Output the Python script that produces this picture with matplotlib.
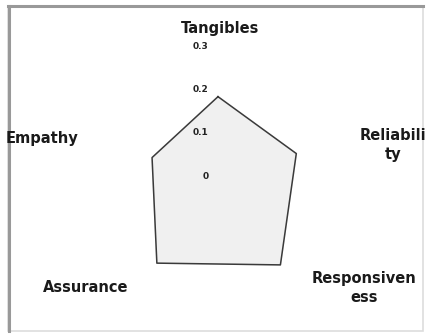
import numpy as np
import matplotlib.pyplot as plt
from matplotlib.patches import Rectangle

categories = ["Tangibles", "Reliability", "Responsiveness", "Assurance", "Empathy"]
values = [0.19, 0.19, 0.245, 0.24, 0.16]
rticks = [0, 0.1, 0.2, 0.3]
rtick_labels = ["0", "0.1", "0.2", "0.3"]

W, H = 426, 336
fig = plt.figure(figsize=(W / 100, H / 100), dpi=100)
fig.patch.set_facecolor("white")

# frame round the chart area (pixel coords, y measured from the top)
def px(x, y):
    return x / W, 1 - y / H

fig.add_artist(Rectangle(px(8, 331), 415 / W, 325 / H, transform=fig.transFigure,
                         fill=False, edgecolor="#dddddd", linewidth=1.2))
(x0, y0), (x1, y1) = px(9, 331), px(9, 6)
fig.add_artist(plt.Line2D([x0, x1], [y0, y1], transform=fig.transFigure,
                          color="#999999", linewidth=2.2))
(x0, y0), (x1, y1) = px(8, 6), px(423, 6)
fig.add_artist(plt.Line2D([x0, x1], [y0, y1], transform=fig.transFigure,
                          color="#999999", linewidth=2.2))

cx, cy, R = 218, 179, 130
ax = fig.add_axes([(cx - R) / W, (H - cy - R) / H, 2 * R / W, 2 * R / H], projection="polar")
ax.set_theta_offset(np.pi / 2)
ax.set_theta_direction(-1)
ax.set_ylim(0, 0.3)
ax.set_xticks([])
ax.set_yticks([])
ax.grid(False)
ax.spines["polar"].set_visible(False)
ax.patch.set_alpha(0)

angles = np.linspace(0, 2 * np.pi, len(categories), endpoint=False)
th = np.append(angles, angles[0])
vv = np.append(values, values[0])
ax.fill(th, vv, color="#f0f0f0", zorder=1)
ax.plot(th, vv, color="#3a3a3a", linewidth=1.1, zorder=2)

for r, lab in zip(rticks, rtick_labels):
    ax.annotate(lab, xy=(0, r), xytext=(-7, 2), textcoords="offset points",
                ha="right", va="center", fontsize=6.5, fontweight="bold",
                color="#222222")

label_pos = {
    "Tangibles": (220, 28, "Tangibles"),
    "Reliability": (393, 145, "Reliabili\nty"),
    "Responsiveness": (364, 288, "Responsiven\ness"),
    "Assurance": (86, 288, "Assurance"),
    "Empathy": (42, 138, "Empathy"),
}
for c in categories:
    x, y, txt = label_pos[c]
    fig.text(*px(x, y), txt, ha="center", va="center", fontsize=10.5,
             fontweight="bold", color="#1a1a1a", linespacing=1.35)

fig.savefig("out.png", dpi=100)
